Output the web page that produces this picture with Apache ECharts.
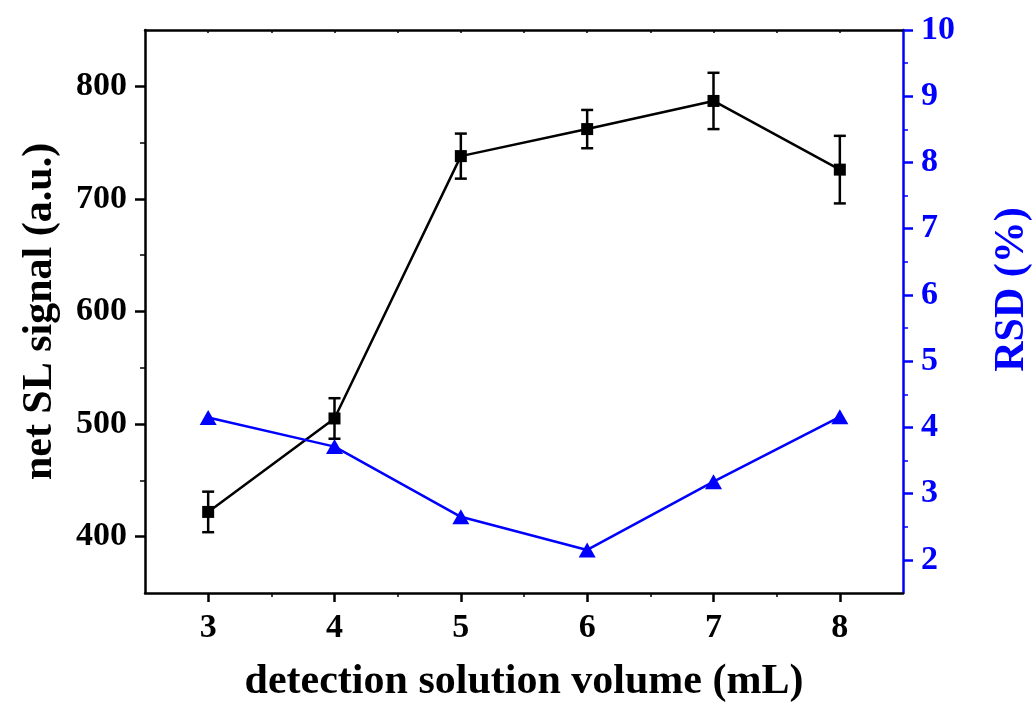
<!DOCTYPE html>
<html>
<head>
<meta charset="utf-8">
<title>net SL signal vs detection solution volume</title>
<script src="https://cdn.jsdelivr.net/npm/echarts@6/dist/echarts.min.js"></script>
<style>
  html, body { margin: 0; padding: 0; background: #fff; }
  #main { width: 1036px; height: 709px; }
</style>
</head>
<body>
<div id="main"></div>
<script>
// data
var volumes = [3, 4, 5, 6, 7, 8];
var signal = [422, 505, 738, 762, 787, 726];
var signalErr = [18, 18, 20, 17, 25, 30];
var rsd = [4.15, 3.71, 2.65, 2.15, 3.18, 4.16];

// tick values
var xTicks = [3, 4, 5, 6, 7, 8];
var xMinorTicks = [3.5, 4.5, 5.5, 6.5, 7.5];
var leftTicks = [400, 500, 600, 700, 800];
var leftMinorTicks = [450, 550, 650, 750];
var rightTicks = [2, 3, 4, 5, 6, 7, 8, 9, 10];
var rightMinorTicks = [2.5, 3.5, 4.5, 5.5, 6.5, 7.5, 8.5, 9.5];

var font = '"Liberation Serif", "Times New Roman", serif';
var blue = '#0000ff';

var myChart = echarts.init(document.getElementById('main'));

function pairs(xs, ys) {
  return xs.map(function (x, i) { return [x, ys[i]]; });
}

var errData = volumes.map(function (x, i) {
  return [x, signal[i] - signalErr[i], signal[i] + signalErr[i]];
});

var option = {
  animation: false,
  backgroundColor: '#fff',
  grid: {
    left: 145,
    right: 133,
    top: 30,
    bottom: 116,
    containLabel: false,
    outerBoundsMode: 'none'
  },
  xAxis: [{
    type: 'value',
    position: 'bottom',
    min: 2.5,
    max: 8.5,
    name: 'detection solution volume (mL)',
    nameLocation: 'middle',
    nameGap: 68,
    nameTextStyle: { fontFamily: font, fontWeight: 'bold', fontSize: 42, color: '#000' },
    axisLine: { show: true, lineStyle: { color: '#000', width: 2.5 } },
    axisTick: { show: true, customValues: xTicks, length: 9, inside: false, lineStyle: { color: '#000', width: 2.5 } },
    axisLabel: { show: true, customValues: xTicks, margin: 18, fontFamily: font, fontWeight: 'bold', fontSize: 34, color: '#000' },
    splitLine: { show: false }
  }, {
    type: 'value',
    position: 'bottom',
    min: 2.5,
    max: 8.5,
    axisLine: { show: false },
    axisTick: { show: true, customValues: xMinorTicks, length: 4, lineStyle: { color: '#000', width: 1.5 } },
    axisLabel: { show: false },
    splitLine: { show: false }
  }, {
    type: 'value',
    position: 'top',
    min: 2.5,
    max: 8.5,
    axisLine: { show: true, lineStyle: { color: '#000', width: 2.5 } },
    axisTick: { show: true, inside: true, customValues: xTicks.concat(xMinorTicks), length: 3, lineStyle: { color: '#000', width: 1.5 } },
    axisLabel: { show: false },
    splitLine: { show: false }
  }],
  yAxis: [{
    type: 'value',
    position: 'left',
    min: 350,
    max: 850,
    name: 'net SL signal (a.u.)',
    nameLocation: 'middle',
    nameGap: 84,
    nameTextStyle: { fontFamily: font, fontWeight: 'bold', fontSize: 42, color: '#000' },
    axisLine: { show: true, lineStyle: { color: '#000', width: 2.5 } },
    axisTick: { show: true, customValues: leftTicks, length: 10, lineStyle: { color: '#000', width: 2.5 } },
    axisLabel: { show: true, customValues: leftTicks, margin: 18, fontFamily: font, fontWeight: 'bold', fontSize: 34, color: '#000' },
    splitLine: { show: false }
  }, {
    type: 'value',
    position: 'left',
    min: 350,
    max: 850,
    axisLine: { show: false },
    axisTick: { show: true, customValues: leftMinorTicks, length: 5, lineStyle: { color: '#000', width: 1.5 } },
    axisLabel: { show: false },
    splitLine: { show: false }
  }, {
    type: 'value',
    position: 'right',
    min: 1.5,
    max: 10,
    name: 'RSD (%)',
    nameLocation: 'middle',
    nameGap: 88,
    nameTextStyle: { fontFamily: font, fontWeight: 'bold', fontSize: 42, color: blue, padding: [0, 0, 0, 44] },
    axisLine: { show: true, lineStyle: { color: blue, width: 2.5 } },
    axisTick: { show: true, customValues: rightTicks, length: 10, lineStyle: { color: blue, width: 2.5 } },
    axisLabel: { show: true, customValues: rightTicks, margin: 18, fontFamily: font, fontWeight: 'bold', fontSize: 34, color: blue },
    splitLine: { show: false }
  }, {
    type: 'value',
    position: 'right',
    min: 1.5,
    max: 10,
    axisLine: { show: false },
    axisTick: { show: true, customValues: rightMinorTicks, length: 5, lineStyle: { color: blue, width: 1.5 } },
    axisLabel: { show: false },
    splitLine: { show: false }
  }],
  series: [{
    name: 'error',
    type: 'custom',
    xAxisIndex: 0,
    yAxisIndex: 0,
    data: errData,
    z: 3,
    renderItem: function (params, api) {
      var lo = api.coord([api.value(0), api.value(1)]);
      var hi = api.coord([api.value(0), api.value(2)]);
      var cap = 6;
      var style = { stroke: '#000', lineWidth: 2.5 };
      return {
        type: 'group',
        children: [
          { type: 'line', shape: { x1: lo[0], y1: lo[1], x2: hi[0], y2: hi[1] }, style: style },
          { type: 'line', shape: { x1: lo[0] - cap, y1: lo[1], x2: lo[0] + cap, y2: lo[1] }, style: style },
          { type: 'line', shape: { x1: hi[0] - cap, y1: hi[1], x2: hi[0] + cap, y2: hi[1] }, style: style }
        ]
      };
    }
  }, {
    name: 'net SL signal',
    type: 'line',
    xAxisIndex: 0,
    yAxisIndex: 0,
    data: pairs(volumes, signal),
    symbol: 'rect',
    symbolSize: 12,
    z: 4,
    lineStyle: { color: '#000', width: 2.5 },
    itemStyle: { color: '#000' }
  }, {
    name: 'RSD',
    type: 'line',
    xAxisIndex: 0,
    yAxisIndex: 2,
    data: pairs(volumes, rsd),
    symbol: 'triangle',
    symbolSize: [17, 15],
    z: 5,
    lineStyle: { color: blue, width: 2.5 },
    itemStyle: { color: blue }
  }]
};

myChart.setOption(option);
</script>
</body>
</html>
